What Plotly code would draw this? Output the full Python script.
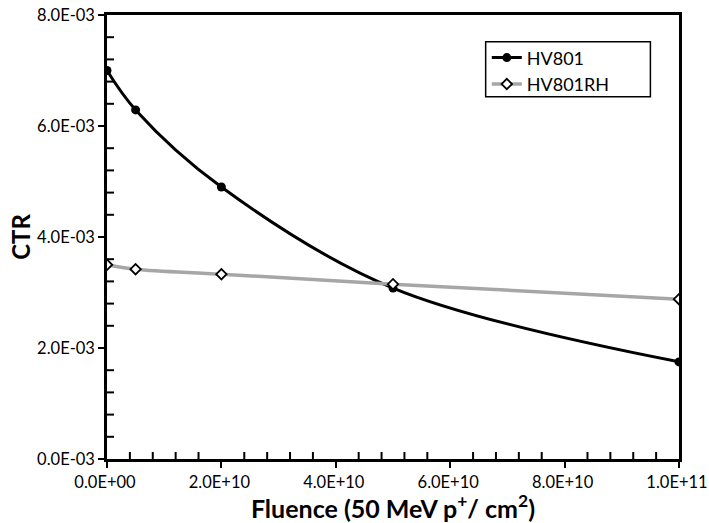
import plotly.graph_objects as go

# Fluence (50 MeV p+/cm^2) and CTR readings for the two samples
fluence = [0, 5e9, 2e10, 5e10, 1e11]
ctr_hv801 = [7.0e-3, 6.29e-3, 4.90e-3, 3.08e-3, 1.75e-3]
ctr_hv801rh = [3.50e-3, 3.42e-3, 3.33e-3, 3.15e-3, 2.88e-3]

x_ticks = [0, 2e10, 4e10, 6e10, 8e10, 1e11]
x_tick_text = ["0.0E+00", "2.0E+10", "4.0E+10", "6.0E+10", "8.0E+10", "1.0E+11"]
y_ticks = [0, 2e-3, 4e-3, 6e-3, 8e-3]
y_tick_text = ["0.0E-03", "2.0E-03", "4.0E-03", "6.0E-03", "8.0E-03"]

X_RANGE = [0, 1e11]
Y_RANGE = [0, 8e-3]

FONT = "Lato"
TICK_FONT = dict(family=FONT, size=16.5, color="black")

fig = go.Figure()
fig.add_trace(go.Scatter(
    x=fluence, y=ctr_hv801, name="HV801", mode="lines+markers",
    line=dict(color="black", width=3, shape="spline", smoothing=1.0),
    marker=dict(symbol="circle", size=9, color="black"),
))
fig.add_trace(go.Scatter(
    x=fluence, y=ctr_hv801rh, name="HV801RH", mode="lines+markers",
    line=dict(color="#A6A6A6", width=3.5, shape="spline", smoothing=1.0),
    marker=dict(symbol="diamond", size=8, color="white",
                line=dict(color="black", width=1.8)),
))

# Inward minor ticks (five divisions per labelled step), clipped to the plot area
x_step = (x_ticks[1] - x_ticks[0]) / 5
y_step = (y_ticks[1] - y_ticks[0]) / 5
x_minor = [i * x_step for i in range(1, 25) if i % 5]
y_minor = [i * y_step for i in range(1, 20) if i % 5]
tick_mark = dict(size=10, color="black", line=dict(width=2, color="black"))
fig.add_trace(go.Scatter(
    x=x_minor, y=[Y_RANGE[0]] * len(x_minor), mode="markers",
    marker=dict(symbol="line-ns-open", **tick_mark),
    cliponaxis=True, showlegend=False, hoverinfo="skip",
))
fig.add_trace(go.Scatter(
    x=[X_RANGE[0]] * len(y_minor), y=y_minor, mode="markers",
    marker=dict(symbol="line-ew-open", **tick_mark),
    cliponaxis=True, showlegend=False, hoverinfo="skip",
))

fig.update_xaxes(
    range=X_RANGE, tickmode="array", tickvals=x_ticks, ticktext=x_tick_text,
    showline=True, linecolor="black", linewidth=2.5, mirror=True,
    showgrid=False, zeroline=False, automargin=False,
    ticks="outside", ticklen=6, tickwidth=2, tickcolor="black",
    tickfont=TICK_FONT, ticklabeloverflow="allow", ticklabelshift=-2,
    title=dict(text="Fluence (50 MeV p<sup>+</sup>/ cm<sup>2</sup>)",
               font=dict(family=FONT, size=25, color="black", weight="bold"),
               standoff=9),
)
fig.update_yaxes(
    range=Y_RANGE, tickmode="array", tickvals=y_ticks, ticktext=y_tick_text,
    showline=True, linecolor="black", linewidth=2.5, mirror=True,
    showgrid=False, zeroline=False, automargin=False,
    ticks="outside", ticklen=6, tickwidth=2, tickcolor="black",
    tickfont=TICK_FONT, ticklabeloverflow="allow",
    title=dict(text="CTR",
               font=dict(family=FONT, size=24, color="black", weight="bold"),
               standoff=0),
)

# Legend frame drawn as a rectangle so it can be wider than the entries
fig.add_shape(
    type="rect", xref="paper", yref="paper",
    x0=0.662, x1=0.950, y0=0.816, y1=0.940,
    line=dict(color="black", width=1.5), fillcolor="white", layer="below",
)

fig.update_layout(
    width=709, height=523,
    margin=dict(l=107, r=30, t=15, b=64, autoexpand=False),
    paper_bgcolor="white", plot_bgcolor="white",
    font=dict(family=FONT, size=18, color="black"),
    showlegend=True,
    legend=dict(
        x=0.664, y=0.945, xanchor="left", yanchor="top",
        bgcolor="rgba(0,0,0,0)", borderwidth=0,
        font=dict(family=FONT, size=18, color="black"),
        tracegroupgap=0, itemwidth=30,
    ),
)

fig.write_html("out.html")
